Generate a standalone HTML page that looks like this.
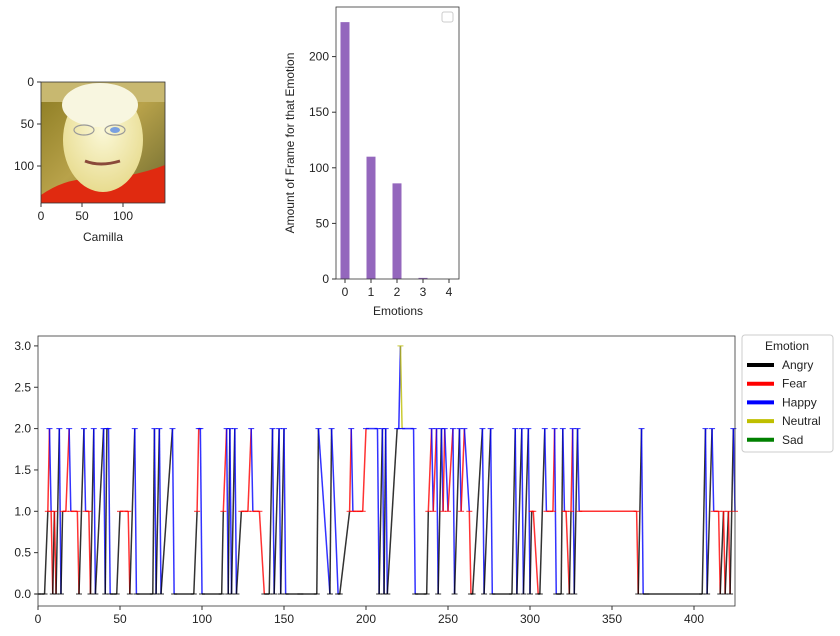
<!DOCTYPE html>
<html><head><meta charset="utf-8"><style>
body{margin:0;background:#fff;font-family:"Liberation Sans","DejaVu Sans",sans-serif;}
svg text{font-family:"Liberation Sans","DejaVu Sans",sans-serif;font-size:12px;fill:#222;}
</style></head><body>
<svg id="root" width="840" height="631" xmlns="http://www.w3.org/2000/svg">
<defs>
<linearGradient id="bg" x1="0" y1="0" x2="1" y2="1"><stop offset="0" stop-color="#8a7a20"/><stop offset="0.5" stop-color="#b8a24a"/><stop offset="1" stop-color="#6d6a30"/></linearGradient>
<radialGradient id="skin" cx="0.5" cy="0.4" r="0.6"><stop offset="0" stop-color="#fbf8d8"/><stop offset="1" stop-color="#e8dc90"/></radialGradient>
<clipPath id="imgclip"><rect x="41" y="82" width="124" height="121"/></clipPath>
</defs>
<g clip-path="url(#imgclip)">
<rect x="41" y="82" width="124" height="121" fill="url(#bg)"/>
<rect x="41" y="82" width="124" height="20" fill="#c8b870"/>
<path d="M41 203 L41 195 Q70 175 100 180 Q140 175 165 165 L165 203 Z" fill="#e02a10"/>
<ellipse cx="103" cy="140" rx="40" ry="52" fill="url(#skin)"/>
<ellipse cx="100" cy="105" rx="38" ry="22" fill="#f8f6e0"/>
<ellipse cx="84" cy="130" rx="10" ry="5" fill="none" stroke="#999" stroke-width="1.2"/>
<ellipse cx="115" cy="130" rx="10" ry="5" fill="none" stroke="#999" stroke-width="1.2"/>
<ellipse cx="115" cy="130" rx="5" ry="3" fill="#7aa0e0"/>
<path d="M85 161 Q100 167 120 161" stroke="#8a4a3a" stroke-width="3" fill="none"/>
</g>
<rect x="41" y="82" width="124" height="121" fill="none" stroke="#333" stroke-width="0.8"/>
<g stroke="#333">
<line x1="41" y1="82" x2="37" y2="82"/><line x1="41" y1="124" x2="37" y2="124"/><line x1="41" y1="166" x2="37" y2="166"/>
<line x1="41" y1="203" x2="41" y2="207"/><line x1="82" y1="203" x2="82" y2="207"/><line x1="123" y1="203" x2="123" y2="207"/>
</g>
<g>
<text x="34" y="86" text-anchor="end">0</text><text x="34" y="128" text-anchor="end">50</text><text x="34" y="170" text-anchor="end">100</text>
<text x="41" y="220" text-anchor="middle">0</text><text x="82" y="220" text-anchor="middle">50</text><text x="123" y="220" text-anchor="middle">100</text>
</g>
<text x="103" y="241" text-anchor="middle">Camilla</text>

<g id="bar"></g>
<g id="line"></g>
</svg>
<script>
const NS="http://www.w3.org/2000/svg";
function mk(p,t,a){const e=document.createElementNS(NS,t);for(const k in a)e.setAttribute(k,a[k]);p.appendChild(e);return e;}

// ---- bar chart data ----
const barCategories=[0,1,2,3,4];
const barValues=[231,110,86,1,0];
const barYTicks=[0,50,100,150,200];

// ---- line chart data ----
const lineX=[0,4,6,7,8,9,10,11,13,14,15,17,19,20,24,25,28,29,31,32,34,35,40,41,42,43,44,48,50,55,56,59,60,70,71,72,74,75,82,83,95,97,98,99,100,112,113,115,116,117,118,120,121,124,128,130,131,135,138,141,143,144,147,148,150,151,160,170,171,178,179,183,184,190,191,192,196,198,200,207,208,210,211,212,213,219,220,221,222,229,230,237,238,240,241,243,244,246,247,248,250,253,254,257,258,260,263,264,265,271,272,276,277,289,291,292,295,296,299,300,301,302,305,306,309,310,314,315,316,319,320,321,322,324,325,326,327,329,330,365,366,368,369,371,405,407,408,411,412,415,416,418,419,421,422,424,425];
const lineY=[0,0,1,2,1,0,1,0,2,0,1,1,2,1,1,0,2,1,1,0,2,0,2,0,2,2,0,0,1,1,0,2,0,0,2,0,2,0,2,0,0,1,2,2,0,0,1,2,0,2,0,2,0,1,1,2,1,1,0,0,2,0,2,0,2,0,0,0,2,0,2,0,0,1,2,1,1,1,2,2,0,2,0,2,0,2,2,3,2,2,0,0,1,2,1,2,0,2,1,2,1,2,0,2,1,2,1,0,0,2,0,2,0,0,2,0,2,0,2,0,1,1,0,0,2,1,1,2,0,0,2,1,1,0,1,2,0,2,1,1,0,2,0,0,0,2,0,2,1,1,0,1,0,1,0,2,1];
const lineYTicks=[0,0.5,1,1.5,2,2.5,3];
const lineXTicks=[0,50,100,150,200,250,300,350,400];
const emotionNames=["Angry","Fear","Happy","Neutral","Sad"];
const emotionColors=["#000000","#ff0000","#0000ff","#bfbf00","#008000"];

// bar chart
const bar=document.getElementById('bar');
const bx=c=>345+c*26, by=v=>279-v*1.112;
barCategories.forEach((c,i)=>{
 const r=mk(bar,'rect',{x:bx(c)-4.5,y:by(barValues[i]),width:9,height:Math.max(0,279-by(barValues[i])),fill:'#9467bd'});
 
 
 mk(bar,'line',{x1:bx(c),y1:279,x2:bx(c),y2:283,stroke:'#333'});
 const t=mk(bar,'text',{x:bx(c),y:296,'text-anchor':'middle'});t.textContent=c;
 
 
});
barYTicks.forEach(v=>{
 mk(bar,'line',{x1:336,y1:by(v),x2:332,y2:by(v),stroke:'#333'});
 const t=mk(bar,'text',{x:329,y:by(v)+4,'text-anchor':'end'});t.textContent=v;
 
 
});
mk(bar,'rect',{x:336,y:7,width:123,height:272,fill:'none',stroke:'#333','stroke-width':0.8});
const lg=mk(bar,'rect',{x:442,y:12,width:11,height:10,fill:'#fff',stroke:'#ccc',rx:2});


let t=mk(bar,'text',{x:398,y:315,'text-anchor':'middle'});t.textContent='Emotions';


t=mk(bar,'text',{x:294,y:143,'text-anchor':'middle',transform:'rotate(-90 294 143)'});t.textContent='Amount of Frame for that Emotion';



// line chart
const line=document.getElementById('line');
const lx=v=>38+v*1.64, ly=v=>594-v*82.7;
lineYTicks.forEach(v=>{
 mk(line,'line',{x1:38,y1:ly(v),x2:34,y2:ly(v),stroke:'#333'});
 const t=mk(line,'text',{x:31,y:ly(v)+4,'text-anchor':'end'});t.textContent=v.toFixed(1);
 
 
});
lineXTicks.forEach(v=>{
 mk(line,'line',{x1:lx(v),y1:606,x2:lx(v),y2:610,stroke:'#333'});
 const t=mk(line,'text',{x:lx(v),y:623,'text-anchor':'middle'});t.textContent=v;
 
 
});
for(let i=0;i<lineX.length-1;i++){
 const c=emotionColors[lineY[i]];
 const s=mk(line,'line',{x1:lx(lineX[i]),y1:ly(lineY[i]),x2:lx(lineX[i+1]),y2:ly(lineY[i+1]),stroke:c,'stroke-width':1.5,opacity:0.8});
 
 
}
for(let i=0;i<lineX.length;i++){
 const c=emotionColors[lineY[i]];
 mk(line,'line',{x1:lx(lineX[i])-3,y1:ly(lineY[i]),x2:lx(lineX[i])+3,y2:ly(lineY[i]),stroke:c,'stroke-width':1,opacity:0.8});
}
mk(line,'rect',{x:38,y:336,width:697,height:270,fill:'none',stroke:'#333','stroke-width':0.8});
const leg=mk(line,'g',{});


mk(leg,'rect',{x:742,y:335,width:91,height:117,fill:'#fff',stroke:'#ccc',rx:3});
t=mk(leg,'text',{x:787,y:350,'text-anchor':'middle'});t.textContent='Emotion';
emotionNames.forEach((n,i)=>{
 const y=365+i*18.7;
 const g=mk(leg,'g',{});
 
 
 mk(g,'line',{x1:747,y1:y,x2:774,y2:y,stroke:emotionColors[i],'stroke-width':4});
 const tt=mk(g,'text',{x:782,y:y+4});tt.textContent=n;
});
</script>
</body></html>
